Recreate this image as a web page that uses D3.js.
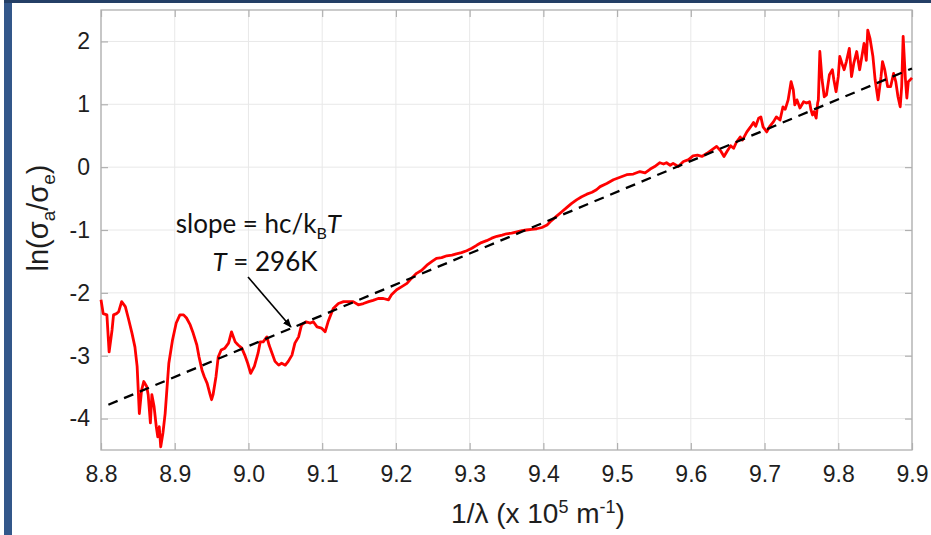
<!DOCTYPE html>
<html>
<head>
<meta charset="utf-8">
<script src="https://cdn.jsdelivr.net/npm/d3@7"></script>
<style>
  html, body { margin: 0; padding: 0; background: #fff; }
  svg { display: block; }
</style>
</head>
<body>
<svg id="chart" width="931" height="535"></svg>
<script>
// Wavenumber 1/λ in units of 1e5 m^-1
const waveNumber = [
  8.800, 8.803, 8.808, 8.811, 8.815, 8.817, 8.821, 8.824, 8.828, 8.833,
  8.837, 8.842, 8.846, 8.849, 8.852, 8.855, 8.858, 8.862, 8.864, 8.867,
  8.869, 8.872, 8.875, 8.877, 8.879, 8.881, 8.884, 8.887, 8.889, 8.892,
  8.897, 8.902, 8.907, 8.912, 8.916, 8.921, 8.925, 8.930, 8.933, 8.937,
  8.940, 8.944, 8.948, 8.950, 8.952, 8.956, 8.959, 8.963, 8.968, 8.973,
  8.977, 8.982, 8.986, 8.991, 8.995, 8.999, 9.003, 9.008, 9.013, 9.016,
  9.020, 9.025, 9.028, 9.032, 9.036, 9.041, 9.045, 9.050, 9.054, 9.059,
  9.063, 9.068, 9.072, 9.078, 9.084, 9.088, 9.093, 9.099, 9.104, 9.108,
  9.115, 9.122, 9.129, 9.135, 9.142, 9.149, 9.156, 9.163, 9.169, 9.176,
  9.183, 9.190, 9.194, 9.201, 9.208, 9.215, 9.221, 9.228, 9.235, 9.242,
  9.249, 9.255, 9.262, 9.269, 9.276, 9.282, 9.289, 9.296, 9.303, 9.310,
  9.316, 9.323, 9.330, 9.337, 9.344, 9.350, 9.357, 9.364, 9.371, 9.377,
  9.384, 9.391, 9.398, 9.405, 9.411, 9.418, 9.425, 9.432, 9.438, 9.445,
  9.452, 9.459, 9.466, 9.472, 9.477, 9.486, 9.495, 9.504, 9.513, 9.522,
  9.531, 9.538, 9.545, 9.551, 9.558, 9.563, 9.567, 9.572, 9.576, 9.583,
  9.590, 9.597, 9.603, 9.609, 9.615, 9.622, 9.628, 9.635, 9.641, 9.645,
  9.649, 9.654, 9.658, 9.662, 9.667, 9.670, 9.676, 9.681, 9.685, 9.688,
  9.692, 9.695, 9.698, 9.703, 9.707, 9.712, 9.716, 9.721, 9.725, 9.728,
  9.732, 9.736, 9.739, 9.741, 9.744, 9.748, 9.753, 9.757, 9.761, 9.763,
  9.765, 9.767, 9.770, 9.772, 9.773, 9.775, 9.778, 9.781, 9.784, 9.788,
  9.792, 9.794, 9.797, 9.800, 9.802, 9.805, 9.808, 9.811, 9.815, 9.818,
  9.821, 9.825, 9.829, 9.832, 9.835, 9.838, 9.840, 9.843, 9.847, 9.850,
  9.854, 9.858, 9.860, 9.863, 9.867, 9.871, 9.875, 9.878, 9.881, 9.884,
  9.886, 9.888, 9.891, 9.893, 9.895, 9.900
];

// ln(σa/σe) measured ratio
const lnRatio = [
  -2.11, -2.33, -2.35, -2.94, -2.59, -2.35, -2.33, -2.30, -2.14, -2.22,
  -2.40, -2.64, -2.86, -3.17, -3.92, -3.55, -3.41, -3.49, -3.62, -4.07,
  -3.62, -3.81, -4.13, -4.29, -4.13, -4.45, -4.23, -3.92, -3.60, -3.12,
  -2.75, -2.48, -2.35, -2.35, -2.40, -2.51, -2.64, -2.83, -3.02, -3.23,
  -3.33, -3.44, -3.62, -3.70, -3.62, -3.33, -3.02, -2.91, -2.88, -2.80,
  -2.62, -2.78, -2.83, -2.88, -2.99, -3.12, -3.28, -3.17, -2.96, -2.78,
  -2.78, -2.70, -2.83, -2.96, -3.09, -3.15, -3.12, -3.15, -3.09, -2.99,
  -2.80, -2.70, -2.51, -2.46, -2.48, -2.46, -2.54, -2.56, -2.62, -2.46,
  -2.25, -2.17, -2.14, -2.14, -2.14, -2.19, -2.17, -2.14, -2.12, -2.09,
  -2.09, -2.11, -2.03, -1.95, -1.90, -1.85, -1.77, -1.69, -1.64, -1.56,
  -1.50, -1.45, -1.44, -1.41, -1.40, -1.38, -1.36, -1.33, -1.29, -1.24,
  -1.20, -1.17, -1.13, -1.10, -1.08, -1.06, -1.05, -1.03, -1.01, -1.00,
  -0.99, -0.98, -0.96, -0.92, -0.85, -0.78, -0.71, -0.64, -0.58, -0.52,
  -0.47, -0.43, -0.40, -0.36, -0.31, -0.26, -0.20, -0.16, -0.12, -0.11,
  -0.07, -0.09, -0.03, 0.01, 0.07, 0.05, 0.07, 0.03, 0.06, 0.01,
  0.09, 0.12, 0.18, 0.19, 0.17, 0.22, 0.27, 0.33, 0.25, 0.17,
  0.25, 0.34, 0.30, 0.40, 0.48, 0.43, 0.56, 0.64, 0.71, 0.65,
  0.78, 0.80, 0.64, 0.56, 0.65, 0.72, 0.80, 0.75, 0.96, 0.92,
  1.07, 1.36, 1.23, 0.99, 1.07, 0.94, 1.04, 1.02, 1.04, 0.91,
  0.83, 0.88, 0.78, 1.02, 1.07, 1.84, 1.39, 1.12, 1.15, 1.47,
  1.55, 1.39, 1.20, 1.44, 1.76, 1.65, 1.55, 1.68, 1.89, 1.44,
  1.65, 1.84, 1.55, 1.76, 1.97, 1.70, 2.18, 2.05, 1.76, 1.39,
  1.07, 1.44, 1.68, 1.55, 1.28, 1.28, 1.49, 1.36, 1.12, 0.96,
  1.28, 2.08, 1.41, 1.10, 1.36, 1.42
];

// Linear fit: ends of the dashed line
const fitX = [8.81, 9.90];
const fitY = [-3.78, 1.57];

const xTicks = [8.8, 8.9, 9.0, 9.1, 9.2, 9.3, 9.4, 9.5, 9.6, 9.7, 9.8, 9.9];
const yTicks = [-4, -3, -2, -1, 0, 1, 2];

const svg = d3.select("#chart");
const W = 931, H = 535;
const plot = { left: 101, right: 912, top: 10, bottom: 450 };

// Frame bars
svg.append("rect").attr("x", 4).attr("y", 0).attr("width", 8).attr("height", H).attr("fill", "#33578a");
svg.append("rect").attr("x", 4).attr("y", 0).attr("width", W - 4).attr("height", 3).attr("fill", "#243f66");

const x = d3.scaleLinear().domain([8.8, 9.9]).range([plot.left, plot.right]);
const y = d3.scaleLinear().domain([-4.5, 2.5]).range([plot.bottom, plot.top]);

const gridColor = "#e8e8e8";
const axisColor = "#b0b0b0";

// Grid
const grid = svg.append("g");
grid.selectAll("line.gx").data(xTicks).join("line")
  .attr("x1", d => x(d)).attr("x2", d => x(d))
  .attr("y1", plot.top).attr("y2", plot.bottom)
  .attr("stroke", gridColor).attr("stroke-width", 1);
grid.selectAll("line.gy").data(yTicks).join("line")
  .attr("x1", plot.left).attr("x2", plot.right)
  .attr("y1", d => y(d)).attr("y2", d => y(d))
  .attr("stroke", gridColor).attr("stroke-width", 1);

// Axes with inward ticks on all four sides
const tickFont = "'Liberation Sans', Arial, sans-serif";
function styleAxis(g) {
  g.select(".domain").remove();
  g.selectAll(".tick line").attr("stroke", axisColor).attr("stroke-width", 1.2);
  g.selectAll(".tick text").attr("fill", "#1e1e1e").style("font-family", tickFont).style("font-size", "23px");
}
const xAxis = svg.append("g").attr("transform", `translate(0,${plot.bottom})`)
  .call(d3.axisBottom(x).tickValues(xTicks).tickFormat(d3.format(".1f")).tickSizeInner(-7).tickSizeOuter(0).tickPadding(16));
styleAxis(xAxis);
xAxis.selectAll(".tick text").attr("dy", "0.71em");

const xAxisTop = svg.append("g").attr("transform", `translate(0,${plot.top})`)
  .call(d3.axisTop(x).tickValues(xTicks).tickFormat("").tickSizeInner(-7).tickSizeOuter(0));
styleAxis(xAxisTop);

const yAxis = svg.append("g").attr("transform", `translate(${plot.left},0)`)
  .call(d3.axisLeft(y).tickValues(yTicks).tickFormat(d3.format("d")).tickSizeInner(-7).tickSizeOuter(0).tickPadding(11));
styleAxis(yAxis);
yAxis.selectAll(".tick text").text(d => d < 0 ? "-" + Math.abs(d) : String(d));

const yAxisRight = svg.append("g").attr("transform", `translate(${plot.right},0)`)
  .call(d3.axisRight(y).tickValues(yTicks).tickFormat("").tickSizeInner(-7).tickSizeOuter(0));
styleAxis(yAxisRight);

// Box
svg.append("rect")
  .attr("x", plot.left).attr("y", plot.top)
  .attr("width", plot.right - plot.left).attr("height", plot.bottom - plot.top)
  .attr("fill", "none").attr("stroke", axisColor).attr("stroke-width", 1.3);

// Measured curve
const series = waveNumber.map((w, i) => [w, lnRatio[i]]);
const line = d3.line().x(d => x(d[0])).y(d => y(d[1]));
svg.append("path").datum(series)
  .attr("d", line)
  .attr("fill", "none").attr("stroke", "#ff0000").attr("stroke-width", 2.8)
  .attr("stroke-linejoin", "round");

// Fit line
svg.append("line")
  .attr("x1", x(fitX[0])).attr("y1", y(fitY[0]))
  .attr("x2", x(fitX[1])).attr("y2", y(fitY[1]))
  .attr("stroke", "#000").attr("stroke-width", 2.3)
  .attr("stroke-dasharray", "10,7");

// Annotation
const annFont = "Lato, 'Open Sans', sans-serif";
const t1 = svg.append("text")
  .attr("x", x(9.0135)).attr("y", y(-1.048))
  .attr("text-anchor", "middle")
  .style("font-family", annFont).style("font-size", "26px").attr("fill", "#111");
t1.append("tspan").text("slope = hc/k");
t1.append("tspan").attr("dy", 6).style("font-size", "16px").text("B");
t1.append("tspan").attr("dy", -6).style("font-style", "italic").text("T");

const t2 = svg.append("text")
  .attr("x", x(9.0224)).attr("y", y(-1.652))
  .attr("text-anchor", "middle")
  .style("font-family", annFont).style("font-size", "26px").attr("fill", "#111");
t2.append("tspan").style("font-style", "italic").text("T");
t2.append("tspan").text(" = 296K");

// Arrow
const defs = svg.append("defs");
defs.append("marker").attr("id", "arrowHead")
  .attr("viewBox", "0 0 10 10").attr("refX", 9).attr("refY", 5)
  .attr("markerWidth", 9).attr("markerHeight", 9).attr("markerUnits", "userSpaceOnUse")
  .attr("orient", "auto")
  .append("path").attr("d", "M0,1 L10,5 L0,9 Z").attr("fill", "#000");
svg.append("line")
  .attr("x1", x(8.9994)).attr("y1", y(-1.748))
  .attr("x2", x(9.0577)).attr("y2", y(-2.543))
  .attr("stroke", "#000").attr("stroke-width", 1.6)
  .attr("marker-end", "url(#arrowHead)");

// Axis titles
const titleFont = "'Liberation Sans', Arial, sans-serif";
const xt = svg.append("text")
  .attr("x", 538).attr("y", 523)
  .attr("text-anchor", "middle")
  .style("font-family", titleFont).style("font-size", "28px").attr("fill", "#1e1e1e");
xt.append("tspan").text("1/λ (x 10");
xt.append("tspan").attr("dy", -10).style("font-size", "18px").text("5");
xt.append("tspan").attr("dy", 10).text(" m");
xt.append("tspan").attr("dy", -10).style("font-size", "18px").text("-1");
xt.append("tspan").attr("dy", 10).text(")");

const yt = svg.append("text")
  .attr("transform", `translate(48,218) rotate(-90)`)
  .attr("text-anchor", "middle")
  .style("font-family", titleFont).style("font-size", "29px").attr("fill", "#1e1e1e");
yt.append("tspan").text("ln(σ");
yt.append("tspan").attr("dy", 7).style("font-size", "19px").text("a");
yt.append("tspan").attr("dy", -7).text("/σ");
yt.append("tspan").attr("dy", 7).style("font-size", "19px").text("e");
yt.append("tspan").attr("dy", -7).text(")");
</script>
</body>
</html>
